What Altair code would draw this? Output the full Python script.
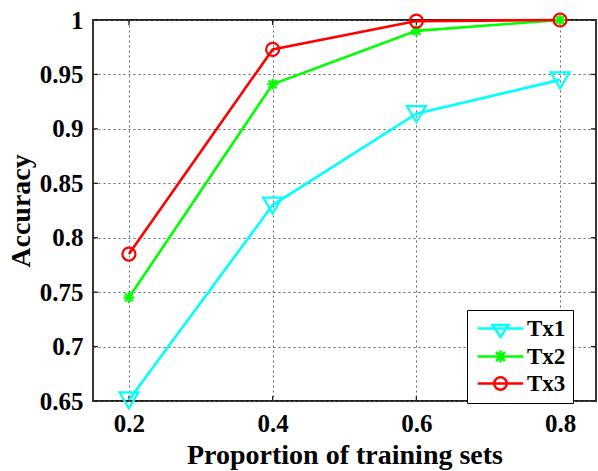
import altair as alt
import pandas as pd

# Proportion of the data used for training, and accuracy of each transmitter
proportion = [0.2, 0.4, 0.6, 0.8]
tx1 = [0.651, 0.830, 0.914, 0.945]
tx2 = [0.745, 0.941, 0.990, 1.000]
tx3 = [0.785, 0.973, 0.999, 1.000]

series_names = ["Tx1", "Tx2", "Tx3"]
series_colors = ["#00FFFF", "#00FF00", "#FF0000"]

x_ticks = [0.2, 0.4, 0.6, 0.8]
y_ticks = [0.65, 0.7, 0.75, 0.8, 0.85, 0.9, 0.95, 1.0]

W, H = 503, 381
TICK_LEN = 5

rows = []
for name, vals in zip(series_names, [tx1, tx2, tx3]):
    for p, v in zip(proportion, vals):
        rows.append({"proportion": p, "accuracy": v, "series": name})
df = pd.DataFrame(rows)

xtick_df = pd.DataFrame({"proportion": x_ticks})
ytick_df = pd.DataFrame({"accuracy": y_ticks})

# Marker outlines (unit box, scaled by the mark size)
marker_paths = [
    "M-0.95,-0.75L0.95,-0.75L0,0.85Z",                                   # triangle down
    "M-0.55,0L0.55,0M0,-0.55L0,0.55M-0.4,-0.4L0.4,0.4M-0.4,0.4L0.4,-0.4",  # asterisk
    "M0.65,0A0.65,0.65,0,1,1,-0.65,0A0.65,0.65,0,1,1,0.65,0Z",          # circle
]
# Legend glyphs: a line segment with the marker on top
legend_paths = [
    "M-3.8,0L3.8,0M-1.35,-0.6L1.35,-0.6L0,1.4Z",
    "M-3.8,0L3.8,0M0,-1L0,1M-0.75,-0.75L0.75,0.75M-0.75,0.75L0.75,-0.75",
    "M-3.8,0L3.8,0M1.05,0A1.05,1.05,0,1,1,-1.05,0A1.05,1.05,0,1,1,1.05,0Z",
]

x_enc = alt.X("proportion:Q",
              scale=alt.Scale(domain=[0.15, 0.85], nice=False, zero=False),
              axis=alt.Axis(values=x_ticks, format=".1f",
                            title="Proportion of training sets"))
y_enc = alt.Y("accuracy:Q",
              scale=alt.Scale(domain=[0.65, 1.0], nice=False, zero=False),
              axis=alt.Axis(values=y_ticks, format=".2~f", title="Accuracy"))

color_scale = alt.Scale(domain=series_names, range=series_colors)

lines = alt.Chart(df).mark_line(strokeWidth=2.6).encode(
    x=x_enc, y=y_enc,
    color=alt.Color("series:N", scale=color_scale, legend=None),
    order=alt.Order("proportion:Q"),
)

points = alt.Chart(df).mark_point(filled=False, strokeWidth=2.2, size=400, opacity=1).encode(
    x=x_enc, y=y_enc,
    color=alt.Color("series:N", scale=color_scale, legend=None),
    shape=alt.Shape("series:N", scale=alt.Scale(domain=series_names, range=marker_paths),
                    legend=None),
)

# Inward tick marks on all four sides of the box
tick_style = dict(color="#222222", strokeWidth=1.3)
ticks_left = alt.Chart(ytick_df).mark_rule(**tick_style).encode(
    y=y_enc, x=alt.value(0), x2=alt.value(TICK_LEN))
ticks_right = alt.Chart(ytick_df).mark_rule(**tick_style).encode(
    y=y_enc, x=alt.value(W - TICK_LEN), x2=alt.value(W))
ticks_bottom = alt.Chart(xtick_df).mark_rule(**tick_style).encode(
    x=x_enc, y=alt.value(H), y2=alt.value(H - TICK_LEN))
ticks_top = alt.Chart(xtick_df).mark_rule(**tick_style).encode(
    x=x_enc, y=alt.value(0), y2=alt.value(TICK_LEN))

legend_props = dict(
    title=None, orient="none", legendX=374, legendY=290,
    strokeColor="black", fillColor="white", padding=7, cornerRadius=0,
    labelFont="Liberation Serif", labelFontSize=23, labelFontWeight="bold",
    labelColor="black", symbolSize=144, symbolStrokeWidth=2.5,
    symbolOffset=15, labelOffset=15, rowPadding=3, labelLimit=60,
)

# Empty layer that only carries the legend
legend_layer = alt.Chart(df).transform_filter("false").mark_point(
    filled=False, strokeWidth=2.5, opacity=1
).encode(
    x=x_enc, y=y_enc,
    color=alt.Color("series:N", scale=color_scale, legend=alt.Legend(**legend_props)),
    shape=alt.Shape("series:N", scale=alt.Scale(domain=series_names, range=legend_paths),
                    legend=alt.Legend(**legend_props)),
)

chart = alt.layer(
    ticks_left, ticks_right, ticks_bottom, ticks_top, lines, points, legend_layer
).resolve_scale(
    color="independent", shape="independent"
).properties(
    width=W, height=H,
    autosize=alt.AutoSizeParams(type="none"),
    padding={"left": 93, "top": 20, "right": 2, "bottom": 70},
).configure_view(
    stroke="#222222", strokeWidth=1.8
).configure_axis(
    labelFont="Liberation Serif", labelFontSize=25, labelFontWeight="bold",
    labelColor="black", labelPadding=10,
    titleFont="Liberation Serif", titleFontSize=28, titleFontWeight="bold",
    titleColor="black",
    domain=False, ticks=False,
    grid=True, gridColor="#666666", gridDash=[2, 3], gridWidth=1, gridOpacity=1,
).configure_axisY(
    titlePadding=4
).configure_axisX(
    titlePadding=5
)

chart.save("out.html", embed_options={"renderer": "svg", "actions": False})
